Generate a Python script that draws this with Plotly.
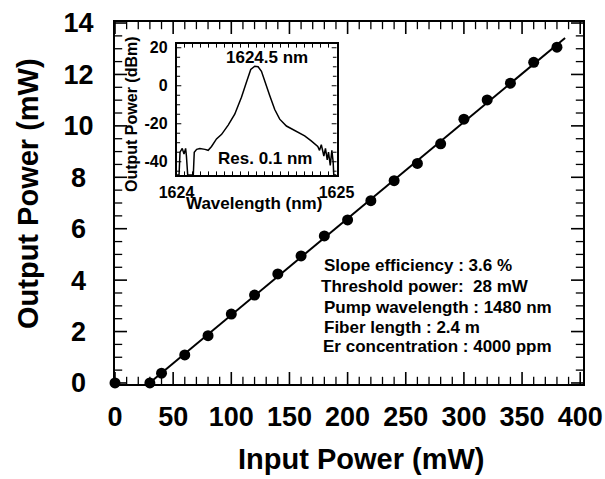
import numpy as np
import plotly.graph_objects as go

# Main curve: laser output vs. pump input (mW)
input_power = [0, 30, 40, 60, 80, 100, 120, 140, 160, 180, 200,
               220, 240, 260, 280, 300, 320, 340, 360, 380]
output_power = [0, 0, 0.38, 1.09, 1.84, 2.68, 3.42, 4.24, 4.94, 5.72, 6.34,
                7.09, 7.87, 8.54, 9.30, 10.26, 11.01, 11.66, 12.47, 13.06]

# Inset: lasing spectrum (nm, dBm); -47 is the noise floor at the frame bottom
wavelength = [1624.000, 1624.016, 1624.022, 1624.036, 1624.047, 1624.057, 1624.062,
              1624.070, 1624.105, 1624.111, 1624.126, 1624.146, 1624.178, 1624.198,
              1624.219, 1624.250, 1624.282, 1624.323, 1624.364, 1624.406, 1624.437,
              1624.464, 1624.489, 1624.510, 1624.531, 1624.551, 1624.583, 1624.614,
              1624.645, 1624.687, 1624.738, 1624.801, 1624.842, 1624.874, 1624.883,
              1624.894, 1624.905, 1624.921, 1624.931, 1624.942, 1624.950, 1624.961,
              1624.971, 1624.979, 1624.983, 1625.000]
spectrum_dbm = [-47, -47, -35, -33, -36, -33, -37,
                -47, -47, -35, -33.5, -33, -33.5, -34,
                -32, -28, -25.6, -20.7, -15, -6, 1.8,
                8.6, 10.3, 10.0, 7.6, 2.4, -5.3, -12.5,
                -17.6, -21.2, -23.7, -26.4, -29, -31, -32,
                -34, -31, -37, -33, -39, -35, -42,
                -34, -40, -47, -47]

x_ticks = [0, 50, 100, 150, 200, 250, 300, 350, 400]
y_ticks = [0, 2, 4, 6, 8, 10, 12, 14]
x_minor = [v for v in range(0, 401, 10) if v % 50]
y_minor = [v / 2 for v in range(0, 29) if v % 4]

inset_x_ticks = [1624, 1625]
inset_y_ticks = [-40, -20, 0, 20]
inset_x_minor = [1624 + i / 20 for i in range(1, 20)]
inset_y_minor = [v for v in range(-45, 21, 5) if v % 20]

info_lines = ["Slope efficiency : 3.6 %",
              "Threshold power:  28 mW",
              "Pump wavelength : 1480 nm",
              "Fiber length : 2.4 m",
              "Er concentration : 4000 ppm"]

FONT = "Liberation Sans, Arial, Helvetica, sans-serif"
W, H = 605, 479

# Plot-area boxes in pixels (left, right, top, bottom) and axis ranges
MAIN = (115, 583, 22, 384)
MAIN_XR, MAIN_YR = (0, 402.4), (-0.04, 14.04)
INSET = (176.5, 336.5, 44, 175)
INSET_XR, INSET_YR = (1624, 1625), (-47, 22)

# Linear fit through the lasing points (above threshold)
xs = np.array(input_power[2:], dtype=float)
ys = np.array(output_power[2:], dtype=float)
slope, intercept = np.polyfit(xs, ys, 1)
x_thr = -intercept / slope
fit_x = np.array([x_thr, 387.0])
fit_y = slope * fit_x + intercept

fig = go.Figure()


def tick_traces(xvals, yvals, box, xr, yr, length, width, xa, ya):
    """Inward tick marks on all four frame sides, as line-shaped markers."""
    left, right, top, bottom = box
    dx = length * (xr[1] - xr[0]) / (right - left)
    dy = length * (yr[1] - yr[0]) / (bottom - top)
    traces = []
    if xvals:
        mx = [v for v in xvals for _ in (0, 1)]
        my = [yr[0] + dy / 2, yr[1] - dy / 2] * len(xvals)
        traces.append(go.Scatter(
            x=mx, y=my, mode="markers", xaxis=xa, yaxis=ya,
            marker=dict(symbol="line-ns-open", size=length, color="black",
                        line=dict(color="black", width=width)),
            hoverinfo="skip", showlegend=False))
    if yvals:
        hx = [xr[0] + dx / 2, xr[1] - dx / 2] * len(yvals)
        hy = [v for v in yvals for _ in (0, 1)]
        traces.append(go.Scatter(
            x=hx, y=hy, mode="markers", xaxis=xa, yaxis=ya,
            marker=dict(symbol="line-ew-open", size=length, color="black",
                        line=dict(color="black", width=width)),
            hoverinfo="skip", showlegend=False))
    return traces


for tr in (tick_traces(x_ticks, y_ticks, MAIN, MAIN_XR, MAIN_YR, 10, 1.6, "x", "y")
           + tick_traces(x_minor, y_minor, MAIN, MAIN_XR, MAIN_YR, 6, 1.3, "x", "y")
           + tick_traces([], inset_y_ticks, INSET, INSET_XR, INSET_YR, 4, 1.1, "x2", "y2")
           + tick_traces(inset_x_minor, inset_y_minor, INSET, INSET_XR, INSET_YR,
                         3, 1.0, "x2", "y2")):
    fig.add_trace(tr)

fig.add_trace(go.Scatter(x=fit_x, y=fit_y, mode="lines",
                         line=dict(color="black", width=2),
                         xaxis="x", yaxis="y", showlegend=False))
fig.add_trace(go.Scatter(x=input_power, y=output_power, mode="markers",
                         marker=dict(color="black", size=11),
                         cliponaxis=False,
                         xaxis="x", yaxis="y", showlegend=False))
fig.add_trace(go.Scatter(x=wavelength, y=spectrum_dbm, mode="lines",
                         line=dict(color="black", width=1.5),
                         xaxis="x2", yaxis="y2", showlegend=False))


def px(x):
    return x / W


def py(y):
    return (H - y) / H


tickfont_main = dict(family=FONT, size=27, color="black", weight="bold")
tickfont_inset = dict(family=FONT, size=16, color="black", weight="bold")

# pad single digits so labels sit centred in the two-digit column
y_text = [str(v) if v >= 10 else str(v) + "\u00a0" for v in y_ticks]

common = dict(showline=True, linecolor="black", mirror=True, showgrid=False,
              zeroline=False, automargin=False, ticks="", tickmode="array")

fig.update_layout(
    width=W, height=H,
    margin=dict(l=0, r=0, t=0, b=0, autoexpand=False),
    paper_bgcolor="white", plot_bgcolor="white",
    xaxis=dict(domain=[px(MAIN[0]), px(MAIN[1])], range=list(MAIN_XR),
               tickvals=x_ticks, ticktext=[str(v) for v in x_ticks],
               linewidth=2, tickfont=tickfont_main, ticklabelstandoff=8,
               **common),
    yaxis=dict(domain=[py(MAIN[3]), py(MAIN[2])], range=list(MAIN_YR),
               tickvals=y_ticks, ticktext=y_text,
               linewidth=2, tickfont=tickfont_main, ticklabelstandoff=14,
               **common),
    xaxis2=dict(domain=[px(INSET[0]), px(INSET[1])], range=list(INSET_XR),
                anchor="y2",
                tickvals=inset_x_ticks, ticktext=[str(v) for v in inset_x_ticks],
                linewidth=1.5, tickfont=tickfont_inset, ticklabelstandoff=2,
                **common),
    yaxis2=dict(domain=[py(INSET[3]), py(INSET[2])], range=list(INSET_YR),
                anchor="x2",
                tickvals=inset_y_ticks, ticktext=[str(v) for v in inset_y_ticks],
                linewidth=1.5, tickfont=tickfont_inset, ticklabelstandoff=4,
                **common),
)

ann = []
ann.append(dict(text="<b>Output Power (mW)</b>", x=px(28), y=py(194),
                xref="paper", yref="paper", textangle=-90, showarrow=False,
                font=dict(family=FONT, size=29, color="black"),
                xanchor="center", yanchor="middle"))
ann.append(dict(text="<b>Input Power (mW)</b>", x=px(361), y=py(459),
                xref="paper", yref="paper", showarrow=False,
                font=dict(family=FONT, size=29, color="black"),
                xanchor="center", yanchor="middle"))
# Inset labels
ann.append(dict(text="<b>Output Power (dBm)</b>", x=px(132), y=py(114),
                xref="paper", yref="paper", textangle=-90, showarrow=False,
                font=dict(family=FONT, size=16, color="black"),
                xanchor="center", yanchor="middle"))
ann.append(dict(text="<b>Wavelength (nm)</b>", x=px(254), y=py(203),
                xref="paper", yref="paper", showarrow=False,
                font=dict(family=FONT, size=17, color="black"),
                xanchor="center", yanchor="middle"))
ann.append(dict(text="<b>1624.5 nm</b>", x=px(266.5), y=py(57.5),
                xref="paper", yref="paper", showarrow=False,
                font=dict(family=FONT, size=17, color="black"),
                xanchor="center", yanchor="middle"))
ann.append(dict(text="<b>Res. 0.1 nm</b>", x=px(265), y=py(158.5),
                xref="paper", yref="paper", showarrow=False,
                font=dict(family=FONT, size=17, color="black"),
                xanchor="center", yanchor="middle"))

# Parameter block
info_y = [265, 286, 307, 327, 346]
info_x = [322, 319, 322, 322, 321]
for line, yy, xx in zip(info_lines, info_y, info_x):
    ann.append(dict(text="<b>" + line + "</b>", x=px(xx), y=py(yy),
                    xref="paper", yref="paper", showarrow=False,
                    font=dict(family=FONT, size=17, color="black"),
                    xanchor="left", yanchor="middle"))

fig.update_layout(annotations=ann)

fig.write_html("out.html")
